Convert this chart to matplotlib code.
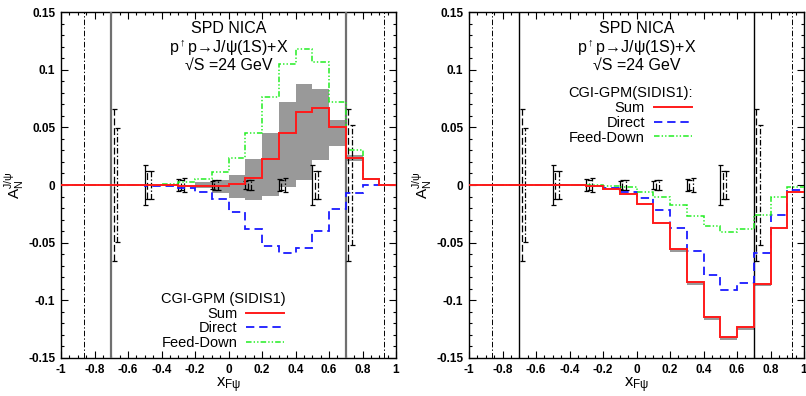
import matplotlib

matplotlib.use("Agg")

import matplotlib.pyplot as plt
import numpy as np
from matplotlib.ticker import MultipleLocator

plt.rcParams["font.family"] = ["Liberation Sans", "DejaVu Sans"]
plt.rcParams["mathtext.fontset"] = "custom"
plt.rcParams["mathtext.rm"] = "Liberation Sans"
plt.rcParams["mathtext.it"] = "Liberation Sans:italic"
plt.rcParams["mathtext.sf"] = "Liberation Sans"
plt.rcParams["lines.scale_dashes"] = False

# bin edges in x_F (20 bins of 0.1)
edges = np.round(np.arange(-1.0, 1.0001, 0.1), 2)

# left panel (SIDIS1, CGI-GPM)
left_sum = [0, 0, 0, 0, 0, 0, -0.0003, -0.0006, -0.0008, -0.0010, 0.0006, 0.0065,
            0.0225, 0.0448, 0.0630, 0.0665, 0.0506, 0.0237, 0.0052, 0.0004]
left_direct = [0, 0, 0, 0, 0, -0.0005, -0.0012, -0.0030, -0.0058, -0.0122, -0.0230, -0.0385,
               -0.0530, -0.0593, -0.0550, -0.0396, -0.0210, -0.0067, -0.0003, 0]
left_feed = [0, 0, 0, 0, 0, 0, 0.0005, 0.0023, 0.0052, 0.0116, 0.0237, 0.0451,
             0.0766, 0.1046, 0.1180, 0.1064, 0.0717, 0.0304, 0.0052, 0]
left_band_lo = [0, 0, 0, 0, 0, 0, 0, 0, -0.0030, -0.0072, -0.0116, -0.0130,
                -0.0093, -0.0020, 0.0045, 0.0217, 0.0338, 0.0205, 0.0040, 0]
left_band_hi = [0, 0, 0, 0, 0, 0, 0, 0, 0.0025, 0.0040, 0.0090, 0.0224,
                0.0454, 0.0717, 0.0880, 0.0830, 0.0564, 0.0260, 0.0060, 0]

# right panel (CGI-GPM(SIDIS1):)
right_sum = [0, 0, 0, 0, 0, 0, -0.0003, -0.0012, -0.0038, -0.0080, -0.0168, -0.0327,
             -0.0555, -0.0844, -0.1142, -0.1321, -0.1234, -0.0859, -0.0370, -0.0061]
right_direct = [0, 0, 0, 0, 0, 0, -0.0002, -0.0009, -0.0030, -0.0058, -0.0116, -0.0217,
                -0.0376, -0.0572, -0.0783, -0.0910, -0.0853, -0.0593, -0.0260, -0.0043]
right_feed = [0, 0, 0, 0, 0, 0, 0, -0.0003, -0.0010, -0.0020, -0.0058, -0.0101,
              -0.0173, -0.0266, -0.0356, -0.0410, -0.0379, -0.0260, -0.0107, -0.0015]
right_band_lo = [0, 0, 0, 0, 0, 0, 0, 0, 0, 0, 0, 0,
                 -0.0580, -0.0870, -0.1170, -0.1345, -0.1260, -0.0875, 0, 0]
right_band_hi = [0, 0, 0, 0, 0, 0, 0, 0, 0, 0, 0, 0,
                 -0.0551, -0.0840, -0.1138, -0.1317, -0.1228, -0.0855, 0, 0]

# projected statistical uncertainties (centred on zero)
err_x = [-0.7, -0.5, -0.3, -0.1, 0.1, 0.3, 0.5, 0.7]
err_solid = [np.nan, 0.017, 0.005, 0.0035, 0.0035, 0.005, 0.017, np.nan]
err_dash = [0.066, 0.012, 0.0045, 0.004, 0.004, 0.0045, 0.012, 0.066]
err_dashdot = [0.049, 0.012, 0.006, 0.004, 0.004, 0.006, 0.012, 0.052]

acceptance_x = [-0.7, 0.7]
rapidity_x = [-0.86, 0.93]

RED = "#ff1a1a"
BLUE = "#1a1aff"
GREEN = "#22ee22"
BAND = "#999999"


def draw_errors(ax):
    x = np.array(err_x)
    for dx, err, ls in [(0.0, err_solid, "-"), (0.016, err_dash, (0, (5, 2))),
                        (0.036, err_dashdot, (0, (4, 1.5, 1, 1.5)))]:
        eb = ax.errorbar(x + dx, np.zeros_like(x), yerr=err, fmt="none", ecolor="black",
                         elinewidth=0.9, capsize=1.8, capthick=0.9, zorder=4)
        eb[-1][0].set_linestyle(ls)


def panel(ax, s, d, f, lo, hi, vcolor, vlw, title, header, leg_xy):
    ax.stairs(hi, edges, baseline=lo, fill=True, color=BAND, lw=0, zorder=2)
    for xv in acceptance_x:
        ax.axvline(xv, color=vcolor, lw=vlw, zorder=3)
    for xv in rapidity_x:
        ax.axvline(xv, color="black", lw=0.7, ls=(0, (4, 1.5, 1, 1.5)), zorder=3)
    draw_errors(ax)
    ax.stairs(d, edges, color=BLUE, lw=1.3, ls=(0, (6, 3.5)), baseline=None, label="Direct", zorder=5)
    ax.stairs(f, edges, color=GREEN, lw=1.1, ls=(0, (4, 1.5, 1, 1.5, 1, 1.5)), baseline=None,
              label="Feed-Down", zorder=5)
    ax.stairs(s, edges, color=RED, lw=1.4, baseline=None, label="Sum", zorder=6)

    ax.set_xlim(-1, 1)
    ax.set_ylim(-0.15, 0.15)
    ax.xaxis.set_minor_locator(MultipleLocator(0.05))
    ax.yaxis.set_minor_locator(MultipleLocator(0.01))
    ax.tick_params(which="both", direction="in", top=True, right=True, width=0.8)
    ax.tick_params(which="major", length=5, labelsize=8.5, pad=4)
    ax.tick_params(which="minor", length=2.5)
    xt = np.round(np.arange(-1.0, 1.01, 0.2), 1)
    ax.set_xticks(xt)
    ax.set_xticklabels(["%g" % v if abs(v) > 1e-9 else "0" for v in xt], fontweight="bold")
    yt = np.round(np.arange(-0.15, 0.151, 0.05), 2)
    ax.set_yticks(yt)
    ax.set_yticklabels(["%g" % v if abs(v) > 1e-9 else "0" for v in yt], fontweight="bold")
    for sp in ax.spines.values():
        sp.set_linewidth(1.0)

    ax.text(0.0, 0.1353, title[0], ha="center", va="center", fontsize=11.5)
    ax.text(0.0, 0.1188, title[1], ha="center", va="center", fontsize=11.5)
    ax.text(0.0, 0.104, title[2], ha="center", va="center", fontsize=11.5)

    ax.set_ylabel(r"$\mathrm{A}_\mathrm{N}^{\mathrm{J/ψ}}$", fontsize=11)
    ax.yaxis.set_label_coords(-0.105, 0.5)
    ax.set_xlabel(r"$\mathrm{x}_{\mathrm{Fψ}}$", fontsize=12)
    ax.xaxis.set_label_coords(0.5, -0.05)

    handles, labels = ax.get_legend_handles_labels()
    order = [labels.index(k) for k in ["Sum", "Direct", "Feed-Down"]]
    leg = ax.legend([handles[i] for i in order], [labels[i] for i in order], title=header,
                    loc="center", bbox_to_anchor=leg_xy, frameon=False, markerfirst=False,
                    fontsize=10.5, title_fontsize=10.5, handlelength=2.6, handletextpad=0.6,
                    labelspacing=0.05, borderpad=0, borderaxespad=0)
    leg.set_zorder(10)


fig = plt.figure(figsize=(8.06, 3.96), dpi=100)
ax1 = fig.add_axes([61 / 806, 38 / 396, 335 / 806, 346 / 396])
ax2 = fig.add_axes([469 / 806, 38 / 396, 335 / 806, 346 / 396])

title = ["SPD NICA", r"p$^{\uparrow}$p→J/ψ(1S)+X", "√S =24 GeV"]
panel(ax1, left_sum, left_direct, left_feed, left_band_lo, left_band_hi, "#707070", 1.6,
      title, "CGI-GPM (SIDIS1)", (0.484, 0.107))
panel(ax2, right_sum, right_direct, right_feed, right_band_lo, right_band_hi, "black", 1.0,
      title, "CGI-GPM(SIDIS1):", (0.482, 0.701))

fig.savefig("out.png", dpi=100)
